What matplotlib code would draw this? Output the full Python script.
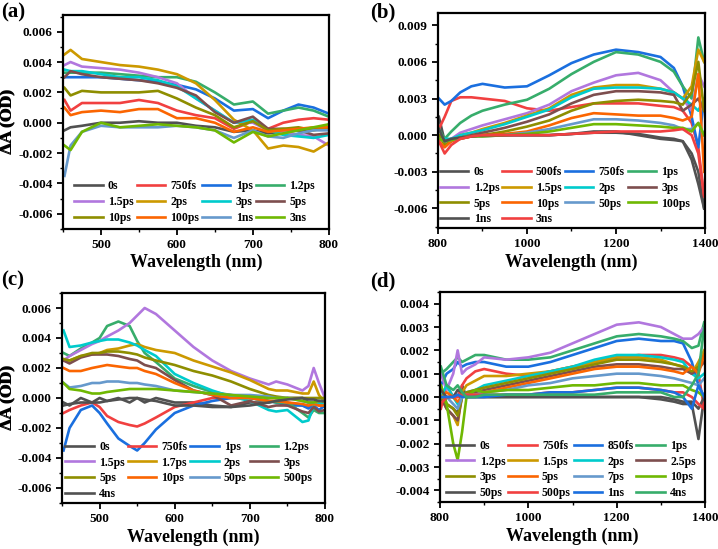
import numpy as np
import matplotlib
matplotlib.use('Agg')
from matplotlib import pyplot as plt
from matplotlib.ticker import AutoMinorLocator

# Origin "bright" colour cycle
COLORS = ['#515151', '#F14040', '#1A6FDF', '#37AD6B', '#B177DE', '#CC9900',
          '#00CBCC', '#7D4E4E', '#8E8E00', '#FB6501', '#6699CC', '#6FB802']

# ---- panel (a) ----  values in mOD (x1e-3)
wl_a = [452, 460, 475, 500, 525, 550, 575, 600, 625, 650, 675, 700, 720, 740, 760, 780, 800]
labels_a = ['0s', '750fs', '1ps', '1.2ps', '1.5ps', '2ps', '3ps', '5ps', '10ps', '100ps', '1ns', '3ns']
dA_a = [
    [-0.5, -0.3, -0.2, 0.0, 0.0, 0.1, 0.0, 0.0, -0.2, -0.3, -0.6, -0.5, -0.7, -0.6, -0.5, -0.4, -0.3],
    [1.5, 0.8, 1.3, 1.3, 1.3, 1.5, 1.3, 0.8, 0.5, 0.3, -0.4, 0.1, -0.4, 0.0, 0.2, 0.3, 0.2],
    [3.0, 3.0, 3.0, 3.0, 2.9, 2.8, 2.7, 2.5, 2.2, 1.6, 0.8, 0.9, 0.3, 0.8, 1.2, 1.0, 0.6],
    [3.3, 3.3, 3.3, 3.3, 3.2, 3.1, 3.0, 3.0, 2.7, 2.0, 1.2, 1.4, 0.6, 0.8, 1.0, 0.8, 0.4],
    [3.8, 4.0, 3.7, 3.6, 3.5, 3.3, 3.0, 2.6, 1.6, 0.8, 0.0, 0.0, -0.5, -0.6, -0.8, -0.9, -1.5],
    [4.5, 4.8, 4.2, 4.0, 3.8, 3.7, 3.5, 3.2, 2.6, 1.5, 0.2, -0.5, -1.7, -1.5, -1.6, -1.9, -1.3],
    [3.5, 3.4, 3.4, 3.2, 3.0, 3.0, 2.8, 2.4, 1.6, 0.8, 0.0, 0.2, -0.5, -0.8, -0.9, -1.0, -0.8],
    [3.0, 3.4, 3.2, 3.0, 2.9, 2.8, 2.6, 2.3, 1.8, 0.7, 0.0, 0.4, -0.4, -0.4, -0.5, -0.8, -0.7],
    [2.3, 1.8, 2.1, 2.0, 2.0, 2.0, 2.1, 1.6, 1.0, 0.5, -0.3, 0.1, -0.5, -0.4, -0.3, -0.5, -0.3],
    [1.0, 0.5, 0.7, 0.8, 0.7, 0.9, 0.9, 0.3, 0.3, 0.0, -0.6, -0.3, -0.6, -0.5, -0.4, -0.3, -0.3],
    [-3.5, -1.5, -0.6, -0.2, -0.3, -0.3, -0.3, -0.2, -0.3, -0.5, -1.0, -0.5, -0.9, -1.0, -0.7, -0.5, -0.5],
    [-1.5, -1.8, -0.6, 0.0, -0.3, -0.2, -0.1, -0.2, -0.3, -0.5, -1.3, -0.6, -0.9, -0.7, -0.5, -0.3, -0.1],
]

# ---- panel (b) ----
wl_b = [802, 815, 830, 850, 875, 900, 950, 1000, 1050, 1100, 1150, 1200, 1250, 1300, 1330, 1350, 1370, 1385, 1398]
labels_b = ['0s', '500fs', '750fs', '1ps', '1.2ps', '1.5ps', '2ps', '3ps', '5ps', '10ps', '50ps', '100ps', '1ns', '3ns']
dA_b = [
    [1.5, -0.5, -0.3, -0.3, -0.1, 0.0, 0.0, 0.0, 0.0, 0.1, 0.3, 0.3, 0.0, -0.3, -0.4, -0.5, -1.5, -3.0, -6.0],
    [0.5, 1.5, 2.8, 3.1, 3.1, 3.0, 2.8, 2.2, 2.0, 2.3, 2.6, 2.6, 2.6, 2.4, 2.3, 2.0, 1.0, -1.0, -5.0],
    [3.0, 2.5, 2.8, 3.5, 4.0, 4.2, 3.9, 4.0, 4.9, 5.9, 6.6, 7.0, 6.8, 6.4, 5.5, 4.0, 1.5, -1.0, 3.0],
    [0.5, -0.3, 0.3, 1.0, 1.6, 2.0, 2.5, 2.9, 3.8, 5.0, 6.0, 6.8, 6.6, 6.0, 5.2, 4.0, 3.0, 8.0, 6.0],
    [0.0, -0.5, -0.3, 0.2, 0.5, 0.8, 1.3, 1.8, 2.5, 3.6, 4.3, 4.9, 5.1, 4.5, 3.5, 3.0, 2.0, 5.0, 4.0],
    [0.0, -0.5, -0.5, 0.0, 0.2, 0.5, 1.0, 1.6, 2.2, 3.3, 3.9, 4.1, 4.1, 3.8, 3.5, 3.0, 4.0, 7.0, 6.0],
    [0.0, -0.3, -0.3, 0.0, 0.2, 0.4, 0.9, 1.5, 2.1, 3.1, 3.8, 3.9, 3.9, 3.8, 3.5, 3.0, 2.5, 2.0, 3.0],
    [0.0, -0.5, -0.4, -0.2, 0.0, 0.2, 0.6, 1.1, 1.7, 2.6, 3.3, 3.6, 3.6, 3.5, 3.3, 2.0, 2.5, 3.0, 2.0],
    [0.0, -0.8, -0.5, -0.2, -0.1, 0.0, 0.3, 0.7, 1.2, 2.0, 2.6, 2.8, 2.9, 2.8, 2.7, 2.5, 3.5, 6.0, 2.0],
    [-0.5, -1.0, -0.5, -0.3, -0.1, 0.0, 0.1, 0.3, 0.8, 1.4, 1.8, 1.7, 1.6, 1.6, 1.4, 1.2, 1.5, 5.0, -3.0],
    [-0.3, -0.5, -0.4, -0.2, -0.1, -0.1, 0.0, 0.2, 0.5, 0.9, 1.3, 1.3, 1.2, 1.0, 0.8, 0.5, 0.5, 1.0, 0.0],
    [-0.3, -0.5, -0.4, -0.2, -0.1, -0.1, 0.0, 0.1, 0.3, 0.6, 0.9, 0.9, 0.8, 0.7, 0.6, 0.6, 0.3, 1.0, 0.0],
    [0.5, -0.5, -0.3, -0.2, -0.1, 0.0, 0.0, 0.0, 0.0, 0.1, 0.2, 0.2, 0.1, -0.2, -0.3, -0.5, -2.0, -4.0, -6.0],
    [-0.5, -1.5, -0.8, -0.3, -0.1, 0.0, 0.0, 0.0, 0.0, 0.1, 0.2, 0.3, 0.3, 0.3, 0.4, 0.5, 0.0, -1.5, -5.0],
]

# ---- panel (c) ----
wl_c = [452, 460, 475, 490, 500, 510, 525, 540, 550, 560, 575, 600, 625, 650, 675, 700, 725, 735, 750, 770, 778, 785, 792, 800]
labels_c = ['0s', '750fs', '1ps', '1.2ps', '1.5ps', '1.7ps', '2ps', '3ps', '5ps', '10ps', '50ps', '500ps', '4ns']
dA_c = [
    [-0.3, -0.5, 0.0, -0.3, 0.0, -0.2, 0.0, -0.3, 0.0, -0.3, 0.0, -0.3, -0.3, -0.5, -0.6, -0.3, -0.3, -0.2, 0.0, 0.0, -0.3, -0.3, -0.2, -0.3],
    [-1.0, -0.8, -0.5, -0.3, -0.6, -1.2, -1.6, -1.8, -1.9, -1.7, -1.3, -0.6, -0.3, 0.0, 0.0, 0.0, -0.2, -0.2, -0.3, -0.5, -0.6, -0.4, -0.5, -0.6],
    [-3.5, -2.0, -0.8, -0.5, -1.0, -1.7, -2.7, -3.2, -3.5, -3.0, -2.1, -1.0, -0.5, -0.2, 0.0, 0.0, -0.2, -0.3, -0.5, -0.5, -0.7, -0.5, -0.8, -0.5],
    [3.0, 2.8, 3.3, 3.7, 4.0, 4.8, 5.1, 4.8, 3.8, 3.0, 2.4, 1.3, 0.8, 0.4, 0.2, 0.0, -0.2, -0.3, -0.3, -1.0, -1.3, -0.8, -1.0, -1.0],
    [2.5, 2.8, 3.2, 3.6, 3.8, 4.1, 4.5, 5.0, 5.5, 6.0, 5.6, 4.5, 3.4, 2.5, 1.8, 1.3, 0.9, 1.1, 0.9, 0.5, 0.8, 2.0, 1.0, 0.0],
    [2.5, 2.5, 2.8, 2.9, 3.0, 3.2, 3.3, 3.5, 3.6, 3.4, 3.2, 3.0, 2.5, 2.1, 1.7, 1.2, 0.6, 0.5, 0.5, 0.3, 0.3, 1.1, 0.2, -0.3],
    [4.5, 3.4, 3.5, 3.7, 3.8, 3.9, 3.9, 3.7, 3.5, 3.2, 2.8, 1.6, 1.0, 0.5, 0.1, -0.2, -0.8, -0.9, -0.8, -1.6, -1.5, -0.5, -0.3, -0.5],
    [2.5, 2.3, 2.7, 2.9, 2.9, 2.9, 2.8, 2.6, 2.5, 2.2, 2.0, 1.2, 0.5, 0.2, -0.5, -0.2, -0.6, -0.5, -0.5, -0.9, -1.0, -0.6, -0.9, -0.8],
    [2.6, 2.5, 2.8, 3.0, 3.0, 3.1, 3.1, 3.0, 2.9, 2.7, 2.5, 2.2, 1.8, 1.5, 1.1, 0.6, 0.2, 0.1, 0.0, 0.0, 0.0, 0.0, 0.0, 0.0],
    [2.0, 1.8, 1.8, 2.0, 2.1, 2.2, 2.1, 2.0, 2.0, 1.8, 1.6, 1.0, 0.5, 0.2, 0.0, 0.0, -0.2, -0.2, -0.3, -0.4, -0.5, -0.4, -0.5, -0.5],
    [1.0, 0.7, 0.8, 1.0, 1.0, 1.1, 1.1, 1.0, 1.0, 0.9, 0.8, 0.5, 0.4, 0.3, 0.2, 0.2, 0.1, 0.0, 0.0, -0.2, -0.3, -0.3, -0.2, -0.2],
    [1.0, 0.6, 0.5, 0.3, 0.3, 0.4, 0.5, 0.6, 0.6, 0.6, 0.6, 0.5, 0.4, 0.3, 0.2, 0.1, 0.0, 0.0, 0.0, -0.2, -0.3, -0.3, -0.2, -0.2],
    [-0.5, -0.4, -0.3, -0.3, -0.3, -0.2, -0.1, 0.0, 0.0, -0.1, -0.2, -0.5, -0.5, -0.6, -0.6, -0.5, -0.3, -0.2, -0.1, 0.0, -0.1, -0.1, -0.2, -0.2],
]

# ---- panel (d) ----
wl_d = [802, 815, 830, 840, 850, 860, 880, 900, 950, 1000, 1050, 1100, 1150, 1200, 1250, 1300, 1330, 1350, 1370, 1385, 1398]
labels_d = ['0s', '750fs', '850fs', '1ps', '1.2ps', '1.5ps', '2ps', '2.5ps', '3ps', '5ps', '7ps', '10ps',
            '50ps', '500ps', '1ns', '4ns']
dA_d = [
    [0.5, -0.3, -0.5, -0.7, 0.5, 0.0, 0.0, 0.0, 0.0, 0.0, 0.0, 0.0, 0.0, 0.0, 0.0, -0.1, -0.2, -0.3, -0.3, -1.8, 0.0],
    [-0.5, 0.5, 0.0, 0.0, 0.5, 0.8, 1.1, 1.2, 1.0, 0.9, 1.1, 1.3, 1.5, 1.7, 1.8, 1.8, 1.7, 1.6, 1.3, 1.0, -0.5],
    [0.5, 1.0, 1.2, 1.5, 1.3, 1.4, 1.5, 1.5, 1.3, 1.3, 1.5, 1.8, 2.1, 2.4, 2.5, 2.4, 2.4, 2.3, 1.5, 0.5, 0.0],
    [1.0, 1.2, 1.5, 1.7, 1.5, 1.6, 1.8, 1.8, 1.6, 1.6, 1.7, 2.0, 2.3, 2.6, 2.7, 2.6, 2.5, 2.4, 2.1, 2.2, 3.2],
    [1.0, 0.3, 1.0, 2.0, 1.0, 1.2, 1.4, 1.7, 1.6, 1.7, 1.9, 2.3, 2.7, 3.1, 3.2, 3.0, 2.7, 2.5, 2.5, 2.7, 3.0],
    [0.0, -0.5, -0.8, -1.2, 0.2, 0.5, 0.7, 0.9, 0.9, 1.0, 1.1, 1.3, 1.5, 1.7, 1.7, 1.6, 1.4, 1.3, 1.0, 1.5, 2.0],
    [0.0, 0.5, 0.0, -0.3, 0.0, 0.2, 0.3, 0.5, 0.7, 0.9, 1.1, 1.3, 1.6, 1.8, 1.8, 1.7, 1.6, 1.5, 1.0, 0.8, 1.0],
    [0.0, -0.5, -0.8, -1.0, 0.0, 0.1, 0.2, 0.3, 0.5, 0.7, 0.9, 1.1, 1.3, 1.4, 1.4, 1.3, 1.2, 1.2, 1.0, 1.2, 1.5],
    [0.0, -0.3, -0.5, -0.8, 0.0, 0.2, 0.3, 0.4, 0.6, 0.8, 1.0, 1.2, 1.4, 1.6, 1.6, 1.5, 1.4, 1.3, 1.1, 1.3, 1.8],
    [0.0, 0.2, 0.0, -0.2, 0.0, 0.1, 0.1, 0.2, 0.4, 0.6, 0.8, 1.0, 1.2, 1.3, 1.3, 1.2, 1.1, 1.0, 1.3, 1.0, 1.8],
    [0.0, 0.0, -0.3, -0.5, 0.0, 0.1, 0.1, 0.2, 0.3, 0.5, 0.6, 0.8, 0.9, 1.0, 1.0, 0.9, 0.8, 0.7, 0.6, 0.5, 0.8],
    [0.5, -0.3, -2.0, -2.7, -1.5, 0.0, 0.3, 0.2, 0.3, 0.3, 0.4, 0.5, 0.5, 0.6, 0.6, 0.5, 0.5, 0.5, 0.3, 0.2, 0.0],
    [0.3, 0.0, 0.0, 0.3, 0.2, 0.0, 0.0, 0.0, 0.0, 0.0, 0.0, 0.0, 0.0, 0.0, 0.0, 0.0, -0.1, -0.2, -0.2, -0.5, 0.0],
    [-0.3, 0.0, 0.0, 0.0, 0.1, 0.1, 0.1, 0.1, 0.1, 0.1, 0.2, 0.2, 0.3, 0.4, 0.4, 0.3, 0.2, 0.2, 0.0, -0.3, -0.5],
    [0.0, 0.0, 0.0, 0.1, 0.0, 0.0, 0.0, 0.0, 0.1, 0.1, 0.2, 0.2, 0.3, 0.4, 0.4, 0.3, 0.2, 0.0, -0.5, 0.5, 0.0],
    [1.3, 0.5, 0.3, 0.5, 0.2, 0.0, 0.0, 0.1, 0.1, 0.1, 0.1, 0.1, 0.1, 0.2, 0.2, 0.2, 0.0, 0.0, 0.5, 1.0, 3.0],
]

plt.rcParams['font.family'] = ['Liberation Serif', 'DejaVu Serif']
plt.rcParams['font.weight'] = 'bold'
plt.rcParams['axes.labelweight'] = 'bold'

fig = plt.figure(figsize=(7.18, 5.49), dpi=100)
NCOL = 4

panels = [
    # wl, data, labels, rect, xlim, xticks, ylim, yticks, legend anchor, tag, tag pos
    (wl_a, dA_a, labels_a, [0.0877, 0.5829, 0.3703, 0.3898], (450, 800), [500, 600, 700, 800],
     (-0.007, 0.0071), np.arange(-0.006, 0.0061, 0.002), (0.025, 0.0), '(a)', (0.002, 0.995)),
    (wl_b, dA_b, labels_b, [0.6100, 0.5847, 0.3719, 0.3916], (800, 1400), [800, 1000, 1200, 1400],
     (-0.0076, 0.0100), np.arange(-0.006, 0.0091, 0.003), (-0.01, -0.01), '(b)', (0.515, 0.995)),
    (wl_c, dA_c, labels_c, [0.0864, 0.0838, 0.3662, 0.3825], (450, 800), [500, 600, 700, 800],
     (-0.007, 0.007), np.arange(-0.006, 0.0061, 0.002), (-0.005, -0.01), '(c)', (0.002, 0.508)),
    (wl_d, dA_d, labels_d, [0.6128, 0.0856, 0.3692, 0.3825], (800, 1400), [800, 1000, 1200, 1400],
     (-0.0045, 0.0045), np.arange(-0.004, 0.0041, 0.001), (0.005, -0.01), '(d)', (0.515, 0.505)),
]

for wl, dA, labels, rect, xlim, xticks, ylim, yticks, anchor, tag, tagpos in panels:
    ax = fig.add_axes(rect)
    lines = []
    for i, (lab, vals) in enumerate(zip(labels, dA)):
        ln, = ax.plot(wl, np.array(vals) * 1e-3, color=COLORS[i % 12], linewidth=1.9, label=lab)
        lines.append(ln)

    ax.set_xlim(*xlim)
    ax.set_ylim(*ylim)
    ax.set_xticks(xticks)
    ax.set_yticks(yticks)
    ax.set_yticklabels(['{:.3f}'.format(v) if abs(v) > 1e-9 else '0.000' for v in yticks])
    ax.xaxis.set_minor_locator(AutoMinorLocator(2))
    ax.yaxis.set_minor_locator(AutoMinorLocator(2))
    ax.tick_params(which='major', direction='out', length=4, width=1.3, labelsize=9.5,
                   top=False, right=False)
    ax.tick_params(which='minor', direction='out', length=2.5, width=1.0, top=False, right=False)
    for sp in ax.spines.values():
        sp.set_linewidth(1.6)

    ax.set_xlabel('Wavelength (nm)', fontsize=13, labelpad=2)
    ax.set_ylabel('ΔA (OD)', fontsize=12.5)
    # right edge of the rotated label ~16 px from the figure's left edge
    ax.yaxis.set_label_coords(-(rect[0] * 718 - 16) / (rect[2] * 718), 0.5)

    # legend reads row by row, so hand the entries over column by column
    order = [i for c in range(NCOL) for i in range(len(lines)) if i % NCOL == c]
    ax.legend([lines[i] for i in order], [labels[i] for i in order],
              loc='lower left', bbox_to_anchor=anchor, ncol=NCOL, frameon=False, fontsize=8.5,
              handlelength=2.4, handletextpad=0.45, columnspacing=0.25, labelspacing=0.33,
              borderaxespad=0.2, borderpad=0.2)

    fig.text(tagpos[0], tagpos[1], tag, fontsize=15, fontweight='bold', va='top', ha='left')

fig.savefig('out.png', dpi=100)
